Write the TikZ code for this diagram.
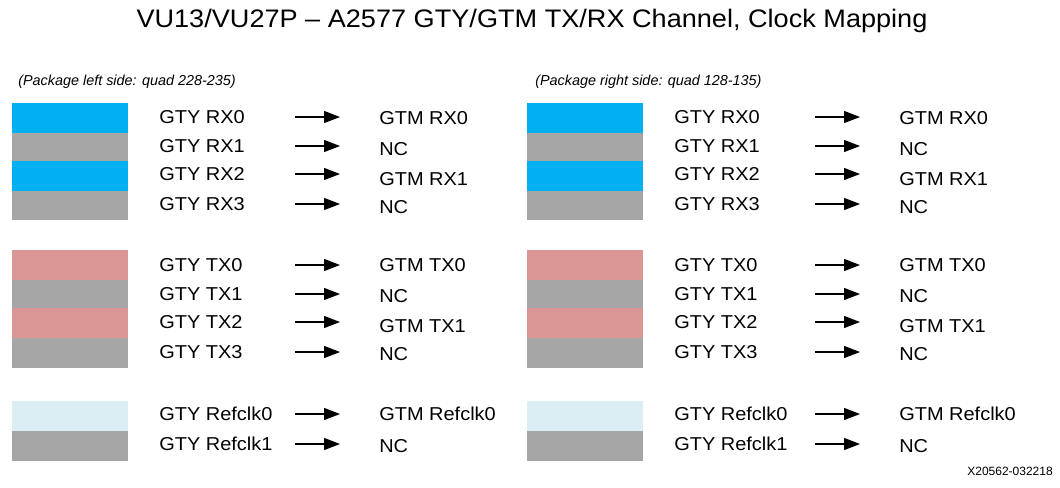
\documentclass[tikz,border=0pt]{standalone}
\usepackage{fontspec}
\setmainfont{Liberation Sans}
\newfontfamily\lblfont[FakeStretch=1.07]{Liberation Sans}
\usetikzlibrary{arrows.meta}
\definecolor{rxblue}{HTML}{00B0F0}
\definecolor{chgray}{HTML}{A6A6A6}
\definecolor{txpink}{HTML}{D99694}
\definecolor{clkblue}{HTML}{DAEEF3}
\tikzset{
  lbl/.style={anchor=west,inner sep=0pt,text height=10pt,text depth=0pt,font=\lblfont\fontsize{14}{16}\selectfont},
  arr/.style={line width=0.9pt,-{Triangle[length=12pt,width=9pt]}},
  sub/.style={anchor=west,inner sep=0pt,font=\itshape\fontsize{10.8}{12}\selectfont},
}
\begin{document}
\begin{tikzpicture}[x=0.75pt,y=-0.75pt]
\useasboundingbox (0,0) rectangle (1060,487);
\node[font=\lblfont\fontsize{19}{23}\selectfont,inner sep=0pt,text height=13.6pt,text depth=0pt] (title) at (532,18) {VU13/VU27P – A2577 GTY/GTM TX/RX Channel, Clock Mapping};
\node[sub] (subL) at (18,82) {(Package left side: quad 228-235)};
\node[sub] (subR) at (535,82) {(Package right side: quad 128-135)};
\node[anchor=east,inner sep=0pt,font=\fontsize{9}{11}\selectfont] (fig) at (1053,471) {X20562-032218};
\foreach \s/\bx/\ax in {L/0/0,R/515/520}{
  \foreach \n/\ya/\yb/\c in {r0/103/133/rxblue,r1/133/161/chgray,r2/161/191/rxblue,r3/191/220/chgray,
                             t0/250/280/txpink,t1/280/308/chgray,t2/308/338/txpink,t3/338/368/chgray,
                             c0/401/431/clkblue,c1/431/461/chgray}{
    \fill[\c] (12+\bx,\ya) rectangle (128+\bx,\yb);
  }
  \foreach \n/\src/\dst/\ys/\yd in {r0/GTY RX0/GTM RX0/117/118,r1/GTY RX1/NC/146/149,r2/GTY RX2/GTM RX1/174/179,r3/GTY RX3/NC/204/207,
                                    t0/GTY TX0/GTM TX0/265/265,t1/GTY TX1/NC/294/296,t2/GTY TX2/GTM TX1/322/326,t3/GTY TX3/NC/352/354,
                                    c0/GTY Refclk0/GTM Refclk0/414/414,c1/GTY Refclk1/NC/444/446}{
    \node[lbl] (src\s\n) at (159+\bx,\ys) {\src};
    \node[lbl] (dst\s\n) at (379+\ax,\yd) {\dst};
    \coordinate (as\s\n) at (295+\ax,\ys);
    \coordinate (ae\s\n) at (340+\ax,\ys);
    \draw[arr] (as\s\n) -- (ae\s\n);
  }
}
\end{tikzpicture}
\end{document}
